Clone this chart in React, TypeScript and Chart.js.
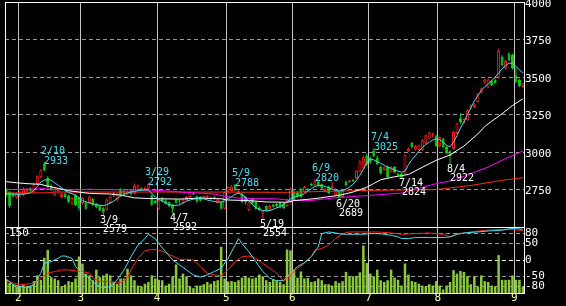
import React, { useEffect, useRef } from 'react';
import { Chart, registerables } from 'chart.js';

Chart.register(...registerables);

// ---------- data ----------
const opens = [
  2750, 2733, 2722, 2697, 2705, 2715, 2730, 2757, 2732, 2786, 2832, 2920, 2828, 2775, 2712, 2735, 2700, 2722, 2710, 2655,
  2711, 2695, 2660, 2665, 2660, 2688, 2655, 2645, 2625, 2615, 2660, 2725, 2678, 2750, 2740, 2722, 2745, 2722, 2748, 2758,
  2748, 2755, 2712, 2676, 2622, 2690, 2677, 2666, 2650, 2680, 2672, 2660, 2680, 2700, 2725, 2705, 2700, 2690, 2698, 2690,
  2688, 2660, 2666, 2622, 2735, 2740, 2780, 2725, 2722, 2700, 2612, 2690, 2666, 2630, 2590, 2640, 2615, 2650, 2655, 2660,
  2655, 2640, 2666, 2733, 2730, 2755, 2733, 2750, 2788, 2777, 2800, 2785, 2740, 2770, 2760, 2712, 2735, 2700, 2800, 2800,
  2815, 2825, 2870, 2890, 2975, 2960, 3010, 2962, 2900, 2880, 2904, 2870, 2900, 2855, 2855, 2855, 3005, 3060, 3015, 3015,
  3011, 3056, 3090, 3110, 3105, 3038, 3089, 3033, 3005, 3022, 3127, 3225, 3194, 3212, 3290, 3300, 3334, 3395, 3461, 3430,
  3474, 3480, 3497, 3635, 3557, 3657, 3646, 3512, 3480, 3432,
];
const highs = [
  2758, 2740, 2730, 2730, 2740, 2765, 2760, 2765, 2795, 2845, 2885, 2933, 2840, 2785, 2765, 2760, 2728, 2730, 2715, 2698,
  2718, 2700, 2700, 2672, 2710, 2695, 2660, 2650, 2635, 2690, 2712, 2735, 2730, 2758, 2748, 2745, 2752, 2790, 2785, 2765,
  2770, 2792, 2720, 2680, 2682, 2700, 2685, 2670, 2655, 2690, 2685, 2690, 2705, 2738, 2730, 2708, 2705, 2712, 2712, 2700,
  2708, 2690, 2672, 2740, 2770, 2780, 2788, 2745, 2730, 2705, 2680, 2695, 2670, 2640, 2612, 2645, 2650, 2655, 2660, 2668,
  2660, 2690, 2762, 2745, 2740, 2762, 2775, 2760, 2795, 2820, 2810, 2790, 2760, 2775, 2800, 2760, 2740, 2750, 2810, 2815,
  2820, 2880, 2945, 2975, 2990, 2970, 3025, 2975, 2910, 2905, 2910, 2905, 2905, 2862, 2860, 2985, 3030, 3068, 3045, 3050,
  3085, 3115, 3135, 3130, 3115, 3105, 3095, 3040, 3010, 3140, 3195, 3258, 3225, 3285, 3318, 3325, 3392, 3430, 3490, 3490,
  3480, 3490, 3690, 3645, 3615, 3665, 3655, 3560, 3490, 3460,
];
const lows = [
  2700, 2625, 2695, 2690, 2700, 2705, 2720, 2735, 2725, 2780, 2825, 2870, 2760, 2740, 2705, 2725, 2695, 2690, 2660, 2645,
  2640, 2610, 2650, 2615, 2655, 2640, 2625, 2605, 2579, 2610, 2655, 2700, 2670, 2705, 2715, 2715, 2712, 2718, 2740, 2740,
  2740, 2750, 2640, 2655, 2615, 2665, 2650, 2630, 2592, 2655, 2655, 2655, 2675, 2695, 2712, 2662, 2670, 2685, 2692, 2678,
  2682, 2655, 2615, 2618, 2730, 2735, 2740, 2720, 2660, 2650, 2605, 2650, 2615, 2605, 2554, 2600, 2610, 2628, 2632, 2625,
  2620, 2635, 2660, 2675, 2695, 2695, 2728, 2740, 2770, 2770, 2770, 2752, 2730, 2720, 2752, 2705, 2689, 2695, 2770, 2795,
  2800, 2820, 2865, 2885, 2905, 2920, 2965, 2912, 2850, 2875, 2828, 2862, 2860, 2838, 2824, 2850, 3000, 3025, 3010, 3010,
  3005, 3050, 3085, 3100, 3035, 3030, 3025, 2985, 2922, 3015, 3120, 3185, 3190, 3208, 3285, 3295, 3330, 3390, 3455, 3425,
  3440, 3455, 3490, 3575, 3550, 3605, 3550, 3460, 3432, 3425,
];
const closes = [
  2708, 2640, 2705, 2722, 2735, 2757, 2745, 2742, 2785, 2838, 2878, 2880, 2768, 2748, 2758, 2750, 2722, 2700, 2668, 2693,
  2645, 2625, 2695, 2622, 2704, 2645, 2632, 2612, 2598, 2683, 2702, 2712, 2724, 2712, 2722, 2738, 2718, 2777, 2775, 2748,
  2762, 2785, 2648, 2660, 2677, 2670, 2655, 2640, 2622, 2662, 2670, 2683, 2700, 2733, 2716, 2668, 2675, 2705, 2706, 2688,
  2702, 2683, 2622, 2733, 2766, 2770, 2745, 2738, 2666, 2666, 2670, 2657, 2622, 2612, 2608, 2612, 2640, 2635, 2640, 2632,
  2626, 2683, 2757, 2680, 2705, 2700, 2766, 2745, 2778, 2808, 2778, 2760, 2752, 2725, 2770, 2745, 2700, 2740, 2780, 2810,
  2805, 2875, 2935, 2965, 2915, 2930, 2972, 2918, 2856, 2898, 2833, 2900, 2866, 2844, 2833, 2978, 3022, 3030, 3040, 3045,
  3078, 3111, 3130, 3122, 3040, 3100, 3033, 2990, 2972, 3134, 3190, 3200, 3220, 3279, 3312, 3318, 3386, 3424, 3484, 3484,
  3446, 3460, 3675, 3580, 3608, 3613, 3557, 3468, 3440, 3450,
];
const volumes = [
  30, 23, 20, 15, 16, 19, 15, 17, 27, 40, 30, 80, 98, 36, 33, 29, 15, 19, 27, 25,
  33, 83, 67, 44, 40, 29, 53, 36, 40, 44, 40, 25, 21, 33, 33, 55, 40, 29, 17, 15,
  21, 25, 40, 33, 30, 29, 17, 21, 38, 65, 33, 44, 38, 14, 11, 17, 17, 20, 25, 21,
  27, 29, 105, 33, 26, 27, 25, 29, 35, 38, 35, 33, 35, 42, 38, 29, 25, 30, 29, 25,
  20, 99, 97, 52, 35, 49, 33, 34, 25, 27, 33, 29, 20, 20, 17, 27, 23, 27, 48, 38,
  38, 38, 47, 108, 68, 44, 38, 53, 29, 25, 29, 53, 35, 30, 17, 67, 42, 27, 25, 21,
  17, 15, 20, 17, 27, 17, 8, 17, 25, 52, 44, 50, 48, 38, 20, 38, 15, 40, 27, 25,
  17, 15, 86, 30, 30, 30, 40, 30, 30, 15,
];

// month boundaries (between trading days) and labels
const monthTickPos = [3.5, 21.5, 43.5, 63.5, 82.5, 104.5, 124.5, 146.5];
const monthLabels = ['2', '3', '4', '5', '6', '7', '8', '9'];
const priceTicks = [2750, 3000, 3250, 3500, 3750, 4000];
const oscTicks = [-80, -50, 0, 50, 80];

// moving averages [dayIndex, value]
const maCyan: [number, number][] = [
  [0, 2722], [2, 2720], [4, 2718], [6, 2722], [7, 2728], [8, 2745], [9, 2770], [10, 2800], [11, 2812], [12, 2816],
  [13, 2812], [14, 2795], [15, 2778], [16, 2762], [17, 2742], [18, 2730], [19, 2722], [20, 2711], [21, 2695], [22, 2677],
  [23, 2668], [24, 2660], [25, 2655], [26, 2650], [27, 2644], [28, 2643], [29, 2648], [30, 2660], [31, 2672], [32, 2690],
  [33, 2705], [34, 2718], [35, 2726], [36, 2733], [37, 2738], [38, 2742], [39, 2745], [40, 2748], [41, 2745], [42, 2725],
  [43, 2700], [44, 2685], [45, 2672], [46, 2660], [47, 2648], [48, 2644], [49, 2644], [50, 2648], [51, 2660], [52, 2672],
  [53, 2680], [54, 2686], [55, 2689], [56, 2690], [57, 2688], [58, 2680], [59, 2675], [60, 2670], [61, 2667], [62, 2666],
  [63, 2674], [64, 2690], [65, 2703], [66, 2718], [67, 2725], [68, 2715], [69, 2700], [70, 2675], [71, 2648], [72, 2630],
  [73, 2618], [74, 2610], [75, 2608], [76, 2610], [77, 2618], [78, 2628], [79, 2635], [80, 2652], [81, 2668], [82, 2688],
  [83, 2698], [84, 2705], [85, 2712], [86, 2722], [87, 2740], [88, 2755], [89, 2770], [90, 2777], [91, 2777], [92, 2770],
  [93, 2762], [94, 2752], [95, 2744], [96, 2740], [97, 2744], [98, 2752], [99, 2766], [100, 2785], [101, 2811], [102, 2845],
  [103, 2885], [104, 2930], [105, 2952], [106, 2948], [107, 2935], [108, 2925], [109, 2912], [110, 2900], [111, 2890], [112, 2880],
  [113, 2872], [114, 2866], [115, 2872], [116, 2915], [117, 2950], [118, 2975], [119, 3005], [120, 3030], [121, 3050], [122, 3066],
  [123, 3080], [124, 3089], [125, 3082], [126, 3065], [127, 3045], [128, 3035], [129, 3065], [130, 3110], [131, 3160], [132, 3200],
  [133, 3250], [134, 3295], [135, 3340], [136, 3375], [137, 3410], [138, 3435], [139, 3455], [140, 3475], [141, 3500], [142, 3525],
  [143, 3555], [144, 3575], [145, 3593], [146, 3590], [147, 3570], [148, 3548], [149, 3526],
];
const maWhite: [number, number][] = [
  [0, 2802], [3, 2795], [6, 2789], [10, 2784], [12, 2772], [15, 2758], [18, 2742], [21, 2733], [24, 2724], [30, 2720],
  [33, 2712], [35, 2704], [37, 2694], [41, 2690], [45, 2688], [50, 2686], [56, 2693], [62, 2688], [64, 2680], [70, 2676],
  [75, 2667], [81, 2665], [83, 2676], [89, 2689], [92, 2699], [96, 2711], [100, 2733], [104, 2765], [106, 2790], [108, 2815],
  [112, 2835], [116, 2850], [120, 2898], [124, 2945], [128, 2980], [132, 3040], [136, 3120], [138, 3170], [140, 3205], [143, 3255],
  [146, 3310], [149, 3355],
];
const maMagenta: [number, number][] = [
  [0, 2750], [8, 2752], [10, 2756], [13, 2752], [20, 2748], [24, 2752], [26, 2750], [35, 2748], [42, 2746], [48, 2738],
  [52, 2730], [56, 2726], [60, 2720], [63, 2705], [67, 2692], [72, 2689], [78, 2688], [82, 2678], [88, 2677], [95, 2695],
  [100, 2703], [105, 2711], [114, 2726], [118, 2752], [124, 2789], [129, 2811], [134, 2856], [139, 2900], [143, 2945], [149, 3007],
];
const maRed: [number, number][] = [
  [0, 2726], [12, 2728], [14, 2733], [60, 2733], [80, 2731], [90, 2736], [104, 2744], [124, 2749], [134, 2777], [143, 2811],
  [149, 2829],
];

// oscillators (lower panel, -100..100)
const oscCyan: [number, number][] = [
  [0, -58], [2, -75], [4, -80], [6, -85], [8, -75], [10, -40], [11, -10], [13, -5], [15, 5], [16, 12], [17, 12], [19, 5],
  [20, -20], [22, -40], [24, -55], [26, -75], [28, -85], [30, -80], [32, -60], [34, -30], [36, 10], [38, 45], [40, 65],
  [41, 78], [43, 65], [44, 50], [46, 25], [48, 0], [50, -15], [52, -30], [54, -45], [56, -52], [58, -45], [60, -35],
  [62, -25], [64, 5], [66, 45], [67, 65], [68, 50], [70, 25], [72, -5], [74, -35], [76, -55], [78, -63], [80, -62],
  [82, -40], [84, -20], [86, -8], [88, 10], [90, 40], [91, 80], [93, 85], [95, 82], [97, 78], [99, 78], [103, 78],
  [105, 80], [107, 80], [109, 78], [111, 75], [113, 70], [114, 65], [116, 65], [118, 68], [122, 68], [126, 68], [128, 70],
  [130, 78], [132, 82], [136, 85], [139, 88], [143, 90], [145, 95], [147, 95], [149, 93],
];
const oscRed: [number, number][] = [
  [0, -60], [2, -70], [4, -75], [6, -73], [8, -70], [10, -55], [12, -40], [14, -35], [16, -30], [18, -30], [20, -33],
  [22, -35], [24, -40], [25, -55], [27, -65], [29, -65], [31, -67], [33, -68], [35, -55], [36, -30], [38, 5], [40, 28],
  [42, 32], [44, 30], [46, 22], [48, 12], [50, 2], [52, 2], [54, 0], [56, -20], [58, -40], [60, -45], [62, -48], [64, -30],
  [66, -5], [68, 10], [70, 12], [72, 5], [74, -10], [76, -25], [78, -40], [80, -65], [82, -45], [84, -25], [86, -10],
  [88, 10], [89, 30], [91, 35], [93, 45], [95, 65], [97, 80], [99, 85], [103, 85], [107, 85], [111, 82], [114, 78],
  [118, 80], [122, 82], [126, 78], [128, 70], [130, 78], [134, 85], [138, 90], [141, 92], [145, 92], [149, 90],
];

// swing high / low marks
const peakIdx = [11, 28, 41, 48, 66, 74, 89, 96, 106, 114, 128];
const peakDates = ['2/10', '3/9', '3/29', '4/7', '5/9', '5/19', '6/9', '6/20', '7/4', '7/14', '8/4'];
const peakIsHigh = [true, false, true, false, true, false, true, false, true, false, false];

// ---------- styles ----------
const UP = '#ff1e1e';
const DOWN = '#12cc12';
const CYAN = '#3fe0f2';
const GRID_DASH = '#979797';
const MONO = '"DejaVu Sans Mono", monospace';
const X_MIN = -0.334;
const X_MAX = 149.32;

const toXY = (arr: [number, number][]) => arr.map(([x, y]) => ({ x, y }));

const framePlugin = {
  id: 'frame',
  afterDraw(chart: any) {
    const { ctx, chartArea: a } = chart;
    ctx.save();
    ctx.strokeStyle = '#ffffff';
    ctx.lineWidth = 1;
    ctx.strokeRect(a.left + 0.5, a.top + 0.5, a.right - a.left, a.bottom - a.top);
    ctx.restore();
  },
};

const peakPlugin = {
  id: 'peaks',
  afterDraw(chart: any) {
    const { ctx } = chart;
    const x = chart.scales.x;
    const y = chart.scales.y;
    ctx.save();
    ctx.font = `10px ${MONO}`;
    ctx.textAlign = 'left';
    ctx.textBaseline = 'alphabetic';
    peakIdx.forEach((i, k) => {
      const hi = peakIsHigh[k];
      const v = hi ? highs[i] : lows[i];
      const px = Math.round(x.getPixelForValue(i));
      const py = Math.round(y.getPixelForValue(v));
      ctx.fillStyle = hi ? CYAN : '#ffffff';
      if (hi) {
        ctx.fillText(peakDates[k], px - 3, py - 8);
        ctx.fillText(String(v), px, py + 2);
      } else {
        ctx.fillText(peakDates[k], px - 3, py + 8);
        ctx.fillText(String(v), px, py + 17);
      }
    });
    ctx.restore();
  },
};

const volLabelPlugin = {
  id: 'volLabel',
  afterDraw(chart: any) {
    const { ctx, chartArea: a } = chart;
    const yv = chart.scales.yv;
    ctx.save();
    ctx.font = `11px ${MONO}`;
    ctx.fillStyle = '#ffffff';
    ctx.textAlign = 'left';
    ctx.textBaseline = 'top';
    ctx.fillText(String(yv.max), a.left + 4, a.top + 1);
    ctx.restore();
  },
};

function xAxis(showLabels: boolean): any {
  return {
    type: 'linear',
    min: X_MIN,
    max: X_MAX,
    bounds: 'data',
    offset: false,
    grid: { color: '#c4c4c4', lineWidth: 1, drawTicks: false, offset: false },
    border: { display: false },
    ticks: {
      display: showLabels,
      autoSkip: false,
      maxRotation: 0,
      padding: 0,
      color: '#ffffa0',
      font: { family: MONO, size: 11, lineHeight: 1 },
      callback: (_v: any, idx: number) => monthLabels[idx],
    },
    afterBuildTicks: (s: any) => {
      s.ticks = monthTickPos.map((v) => ({ value: v }));
    },
    afterFit: (s: any) => {
      s.height = showLabels ? 13 : 0;
      s.paddingLeft = 0;
      s.paddingRight = 0;
    },
  };
}

function mainConfig(): any {
  const isUp = closes.map((c, i) => c >= opens[i]);
  return {
    type: 'bar',
    data: {
      datasets: [
        {
          type: 'line', label: 'MA short', data: toXY(maCyan), borderColor: CYAN, borderWidth: 1,
          pointRadius: 0, tension: 0, order: 0,
        },
        {
          type: 'line', label: 'MA mid', data: toXY(maWhite), borderColor: '#ffffff', borderWidth: 1,
          pointRadius: 0, tension: 0, order: 0,
        },
        {
          type: 'line', label: 'MA long', data: toXY(maMagenta), borderColor: '#ff00ff', borderWidth: 1,
          pointRadius: 0, tension: 0, order: 0,
        },
        {
          type: 'line', label: 'MA longest', data: toXY(maRed), borderColor: '#ff2a10', borderWidth: 1,
          pointRadius: 0, tension: 0, order: 0,
        },
        {
          type: 'bar', label: 'body',
          data: opens.map((o, i) => ({ x: i, y: [o, closes[i]] })),
          backgroundColor: isUp.map((u) => (u ? '#000000' : DOWN)),
          borderColor: isUp.map((u) => (u ? UP : DOWN)),
          borderWidth: 1, borderSkipped: false, barThickness: 3, minBarLength: 1,
          grouped: false, inflateAmount: 0, order: 2,
        },
        {
          type: 'bar', label: 'wick',
          data: lows.map((l, i) => ({ x: i, y: [l, highs[i]] })),
          backgroundColor: isUp.map((u) => (u ? UP : DOWN)),
          borderWidth: 0, barThickness: 1, grouped: false, inflateAmount: 0, order: 3,
        },
      ],
    },
    options: {
      animation: false,
      responsive: false,
      devicePixelRatio: 1,
      layout: { padding: { left: 5, top: 2, right: 0, bottom: 79 } },
      plugins: { legend: { display: false }, tooltip: { enabled: false } },
      scales: {
        x: xAxis(false),
        y: {
          type: 'linear', position: 'right', min: 2500, max: 4000,
          grid: { color: GRID_DASH, lineWidth: 1, drawTicks: false },
          border: { display: false, dash: [4, 3] },
          ticks: {
            color: '#ffffff', padding: 1, labelOffset: 2, crossAlign: 'near',
            font: { family: MONO, size: 11 },
            callback: (v: any) => String(v),
          },
          afterBuildTicks: (s: any) => {
            s.ticks = priceTicks.map((v) => ({ value: v }));
          },
          afterFit: (s: any) => {
            s.width = 42;
            s.paddingTop = 0;
            s.paddingBottom = 0;
          },
        },
      },
    },
    plugins: [framePlugin, peakPlugin],
  };
}

function subConfig(): any {
  return {
    type: 'bar',
    data: {
      datasets: [
        {
          type: 'line', label: 'osc fast', data: toXY(oscCyan), borderColor: CYAN, borderWidth: 1,
          pointRadius: 0, tension: 0, yAxisID: 'y', order: 0,
        },
        {
          type: 'line', label: 'osc slow', data: toXY(oscRed), borderColor: '#ff2010', borderWidth: 1,
          pointRadius: 0, tension: 0, yAxisID: 'y', order: 0,
        },
        {
          type: 'bar', label: 'volume', data: volumes.map((v, i) => ({ x: i, y: v })),
          backgroundColor: '#8cc83c', borderWidth: 0, barThickness: 2.5, grouped: false,
          inflateAmount: 0, yAxisID: 'yv', order: 2,
        },
      ],
    },
    options: {
      animation: false,
      responsive: false,
      devicePixelRatio: 1,
      layout: { padding: { left: 5, top: 227, right: 0, bottom: 0 } },
      plugins: { legend: { display: false }, tooltip: { enabled: false } },
      scales: {
        x: xAxis(true),
        y: {
          type: 'linear', position: 'right', min: -100, max: 100,
          grid: {
            color: (c: any) => (c.tick && c.tick.value === 0 ? '#ffffff' : GRID_DASH),
            lineWidth: 1, drawTicks: false,
          },
          border: { display: false, dash: [4, 3] },
          ticks: {
            color: '#ffffff', padding: 1, crossAlign: 'near',
            font: { family: MONO, size: 11 },
            callback: (v: any) => String(v),
          },
          afterBuildTicks: (s: any) => {
            s.ticks = oscTicks.map((v) => ({ value: v }));
          },
          afterFit: (s: any) => {
            s.width = 42;
            s.paddingTop = 0;
            s.paddingBottom = 0;
          },
        },
        yv: { type: 'linear', display: false, min: 0, max: 150 },
      },
    },
    plugins: [framePlugin, volLabelPlugin],
  };
}

export default function App() {
  const mainRef = useRef<HTMLCanvasElement>(null);
  const subRef = useRef<HTMLCanvasElement>(null);

  useEffect(() => {
    const sub = new Chart(subRef.current as HTMLCanvasElement, subConfig());
    const main = new Chart(mainRef.current as HTMLCanvasElement, mainConfig());
    return () => {
      main.destroy();
      sub.destroy();
    };
  }, []);

  const canvasStyle: React.CSSProperties = { position: 'absolute', left: 0, top: 0, width: 566, height: 306 };
  return (
    <div style={{ position: 'fixed', left: 0, top: 0, width: 566, height: 306, background: '#000000', overflow: 'hidden' }}>
      <canvas ref={subRef} width={566} height={306} style={canvasStyle} />
      <canvas ref={mainRef} width={566} height={306} style={canvasStyle} />
    </div>
  );
}
